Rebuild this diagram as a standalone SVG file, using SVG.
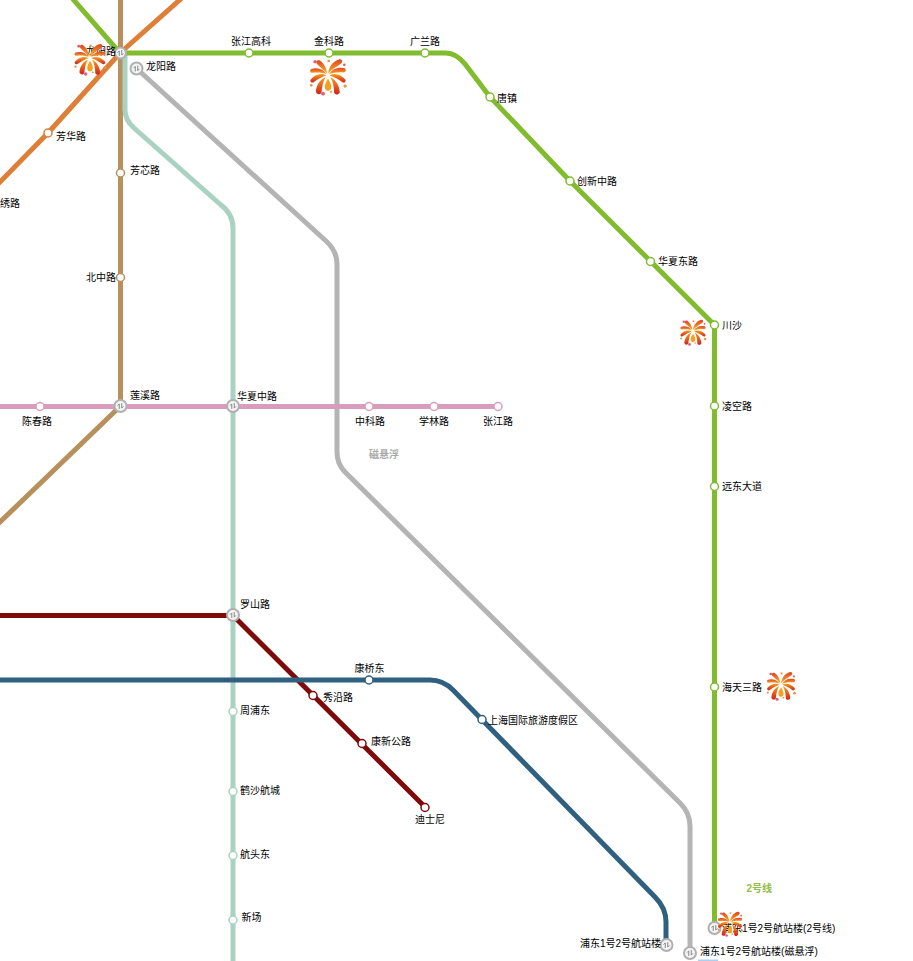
<svg xmlns="http://www.w3.org/2000/svg" width="913" height="961" viewBox="0 0 913 961">
<style>
text{font-family:"Liberation Sans","Noto Sans CJK SC",sans-serif;font-size:10px;fill:#000}
.l{fill:none;stroke-width:5;stroke-linejoin:round}
.s{fill:#fff;stroke-width:1.500}
.x{fill:#f4f4f4;stroke:#b0b0b0;stroke-width:2}
.g{fill:none;stroke:#888;stroke-width:1.200}
</style>
<defs>
<linearGradient id="fg" x1="0" y1="0" x2="0" y2="1"><stop offset="0" stop-color="#f7a020"/><stop offset="1" stop-color="#d4201a"/></linearGradient>
<linearGradient id="ft" x1="0" y1="1" x2="0" y2="0"><stop offset="0" stop-color="#fbb62d"/><stop offset="1" stop-color="#e0421c"/></linearGradient>
<symbol id="fw" viewBox="0 0 100 100">
<g fill="url(#ft)">
<path d="M50 41C52 24 62 8 80 3C88 3 90 10 84 15C72 22 60 31 50 41Z"/>
<path d="M48 41C46 28 40 14 28 6C21 4 17 10 21 16C30 25 40 33 48 41Z"/>
<path d="M52 43C62 28 78 23 94 27C99 31 97 38 91 38C78 36 64 38 52 43Z"/>
<path d="M47 43C38 29 22 24 6 29C1 33 3 39 9 39C22 37 36 38 47 43Z"/>
</g>
<g fill="url(#fg)">
<path d="M54 46C68 38 84 44 96 57C98 63 92 67 87 63C78 56 66 50 54 46Z"/>
<path d="M45 46C32 38 15 44 4 57C2 63 8 67 13 63C22 56 34 50 45 46Z"/>
<path d="M56 50C70 57 80 72 81 90C78 98 68 98 66 91C66 76 63 62 56 50Z"/>
<path d="M44 50C28 57 19 72 18 89C20 97 31 97 33 90C34 76 37 62 44 50Z"/>
</g>
<path d="M50 54C44 64 40 72 42 80C45 88 55 88 58 80C60 72 56 64 50 54Z" fill="#f5a01f"/>
<g fill="#d9607c"><circle cx="16" cy="10" r="4.500"/><circle cx="93" cy="18" r="3.500"/><circle cx="37" cy="94" r="5"/></g>
<g fill="#e8963a"><circle cx="52" cy="8" r="3.500"/><circle cx="6" cy="72" r="3.500"/><circle cx="95" cy="74" r="4.500"/><circle cx="58" cy="89" r="3"/></g>
</symbol>
<symbol id="ic" viewBox="-6 -6 12 12">
<path class="g" d="M-1.500 3.500V-2.500L-3.500 -0.500M1.500 -3.500V2.500L3.500 0.500"/>
</symbol>
</defs>
<g id="connectors">
<path class="l" stroke="#df7f37" d="M-2 184L48 133L120 53L183 -3"/>
<path class="l" stroke="#b8905c" d="M120.500 -2V406L-2 524"/>
<path class="l" stroke="#a9d2c2" d="M125 54V110Q125 120 134 128L221 205Q233 214 233 228V963"/>
<path class="l" stroke="#b4b4b4" d="M136 68L326 241Q337 251 337 264V452Q337 464 345 472L680 803Q690 813 690 826V953"/>
<path class="l" stroke="#d89dbd" d="M-2 406.500H498"/>
<path class="l" stroke="#7f0a0a" d="M-2 615.500H233L425 807"/>
<path class="l" stroke="#2f6080" d="M-2 680H430Q443 680 453 690L655 897Q666 908 666 922V945"/>
<path class="l" stroke="#80bc2e" d="M72 -2L120 53H446Q456 53 465 64L490 97L570 181L714.500 325V928"/>
<rect x="698" y="959.500" width="20" height="2" fill="#a8d0f4"/>
</g>
<g id="n-longyang2"><circle class="x" cx="120.500" cy="53" r="5.500"/><use href="#ic" x="115.500" y="48" width="10" height="10"/><text x="86" y="54.500">龙阳路</text></g>
<g id="n-longyang-mag"><circle class="x" cx="136.500" cy="68.500" r="6"/><use href="#ic" x="131.500" y="63.500" width="10" height="10"/><text x="146" y="70">龙阳路</text></g>
<g id="n-zhangjianggk"><circle class="s" cx="249" cy="53" r="4" stroke="#80bc2e"/><text x="231" y="44.500">张江高科</text></g>
<g id="n-jinke"><circle class="s" cx="329" cy="53" r="4" stroke="#80bc2e"/><text x="314" y="44.500">金科路</text></g>
<g id="n-guanglan"><circle class="s" cx="425" cy="53" r="4" stroke="#80bc2e"/><text x="410" y="44.500">广兰路</text></g>
<g id="n-tangzhen"><circle class="s" cx="490" cy="97" r="4" stroke="#80bc2e"/><text x="497" y="102">唐镇</text></g>
<g id="n-chuangxin"><circle class="s" cx="570" cy="181" r="4" stroke="#80bc2e"/><text x="577" y="185">创新中路</text></g>
<g id="n-huaxiadong"><circle class="s" cx="650.500" cy="261.500" r="4" stroke="#80bc2e"/><text x="658" y="264.500">华夏东路</text></g>
<g id="n-chuansha"><circle class="s" cx="714.500" cy="325" r="4" stroke="#80bc2e"/><text x="722" y="329">川沙</text></g>
<g id="n-lingkong"><circle class="s" cx="714.500" cy="406" r="4" stroke="#80bc2e"/><text x="722" y="410">凌空路</text></g>
<g id="n-yuandong"><circle class="s" cx="714.500" cy="486.500" r="4" stroke="#80bc2e"/><text x="722" y="490">远东大道</text></g>
<g id="n-haitian"><circle class="s" cx="714.500" cy="687" r="4" stroke="#80bc2e"/><text x="722" y="691">海天三路</text></g>
<g id="n-pudong2"><circle class="x" cx="714.500" cy="928" r="6"/><use href="#ic" x="709.500" y="923" width="10" height="10"/><text x="722" y="932">浦东1号2号航站楼(2号线)</text></g>
<g id="n-pudong-mag"><circle class="x" cx="690" cy="953" r="6"/><use href="#ic" x="685" y="948" width="10" height="10"/><text x="700" y="955">浦东1号2号航站楼(磁悬浮)</text></g>
<g id="n-pudong-blue"><circle class="x" cx="666.500" cy="945" r="6"/><use href="#ic" x="661.500" y="940" width="10" height="10"/><text x="580" y="947">浦东1号2号航站楼</text></g>
<g id="n-fanghua"><circle class="s" cx="48" cy="133" r="4" stroke="#df7f37"/><text x="56" y="140">芳华路</text></g>
<g id="n-xiu"><text x="-10" y="207">锦绣路</text></g>
<g id="n-fangxin"><circle class="s" cx="120.500" cy="173" r="4" stroke="#b8905c"/><text x="130" y="174">芳芯路</text></g>
<g id="n-beizhong"><circle class="s" cx="120.500" cy="277.500" r="4" stroke="#b8905c"/><text x="86" y="281">北中路</text></g>
<g id="n-lianxi"><circle class="x" cx="120.500" cy="406" r="6"/><use href="#ic" x="115.500" y="401" width="10" height="10"/><text x="130" y="399">莲溪路</text></g>
<g id="n-huaxiazhong"><circle class="x" cx="233" cy="406" r="6"/><use href="#ic" x="228" y="401" width="10" height="10"/><text x="237" y="399.500">华夏中路</text></g>
<g id="n-chenchun"><circle class="s" cx="40" cy="406.500" r="4" stroke="#d89dbd"/><text x="22" y="424.500">陈春路</text></g>
<g id="n-zhongke"><circle class="s" cx="369" cy="406.500" r="4" stroke="#d89dbd"/><text x="355" y="424.500">中科路</text></g>
<g id="n-xuelin"><circle class="s" cx="434" cy="406.500" r="4" stroke="#d89dbd"/><text x="419" y="424.500">学林路</text></g>
<g id="n-zhangjiang"><circle class="s" cx="498" cy="406.500" r="4" stroke="#d89dbd"/><text x="483" y="424.500">张江路</text></g>
<g id="n-luoshan"><circle class="x" cx="233" cy="615" r="6"/><use href="#ic" x="228" y="610" width="10" height="10"/><text x="240" y="608">罗山路</text></g>
<g id="n-xiuyan"><circle class="s" cx="313" cy="695.500" r="4" stroke="#7f0a0a"/><text x="323" y="701">秀沿路</text></g>
<g id="n-kangxin"><circle class="s" cx="362" cy="743.500" r="4" stroke="#7f0a0a"/><text x="371" y="745">康新公路</text></g>
<g id="n-disney"><circle class="s" cx="425" cy="807.500" r="4" stroke="#7f0a0a"/><text x="415" y="823">迪士尼</text></g>
<g id="n-kangqiao"><circle class="s" cx="369" cy="680" r="4" stroke="#2f6080"/><text x="354.500" y="672">康桥东</text></g>
<g id="n-resort"><circle class="s" cx="482" cy="719.500" r="4" stroke="#2f6080"/><text x="488" y="724">上海国际旅游度假区</text></g>
<g id="n-zhoupu"><circle class="s" cx="233" cy="711.500" r="4" stroke="#a9d2c2"/><text x="240" y="714">周浦东</text></g>
<g id="n-heshahang"><circle class="s" cx="233" cy="791.500" r="4" stroke="#a9d2c2"/><text x="240" y="794">鹤沙航城</text></g>
<g id="n-hangtou"><circle class="s" cx="233" cy="855.500" r="4" stroke="#a9d2c2"/><text x="240" y="858">航头东</text></g>
<g id="n-xinchang"><circle class="s" cx="233" cy="920" r="4" stroke="#a9d2c2"/><text x="241.500" y="921">新场</text></g>
<text x="369" y="458" style="fill:#aaa;font-weight:bold">磁悬浮</text>
<text x="746.500" y="892" style="fill:#8fbe4a;font-weight:bold">2号线</text>
<g id="fireworks">
<use href="#fw" x="72" y="43" width="36" height="33"/>
<use href="#fw" x="308" y="58" width="40" height="38"/>
<use href="#fw" x="678" y="319" width="30" height="27"/>
<use href="#fw" x="765" y="671" width="32" height="30"/>
<use href="#fw" x="716" y="911" width="28" height="26"/>
</g>
</svg>
